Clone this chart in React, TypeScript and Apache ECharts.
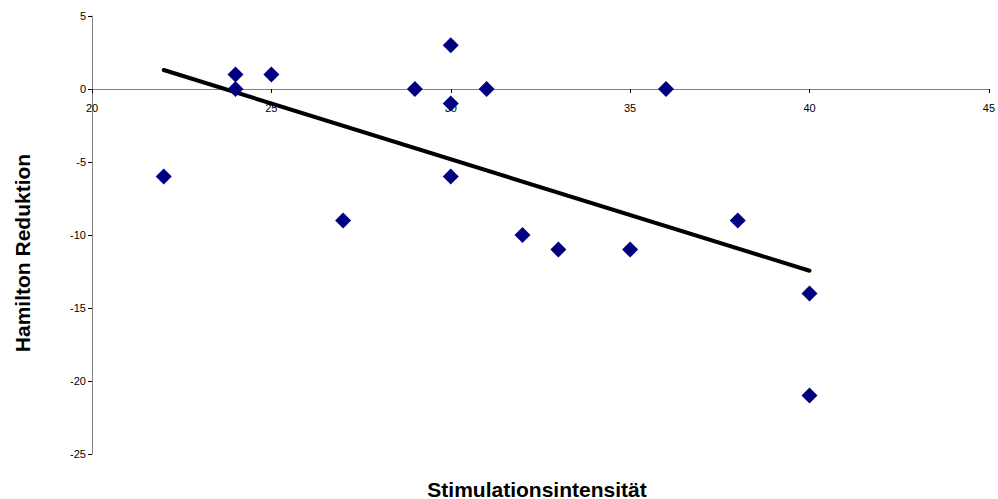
import React, { useEffect, useRef } from "react";
import * as echarts from "echarts";

const stimX: number[] = [22, 24, 24, 25, 27, 29, 30, 30, 30, 31, 32, 33, 35, 36, 38, 40, 40];
const hamiltonY: number[] = [-6, 1, 0, 1, -9, 0, 3, -1, -6, 0, -10, -11, -11, 0, -9, -14, -21];
const trendX: number[] = [22, 40];
const trendY: number[] = [1.3, -12.45];
const xTitle = "Stimulationsintensität";
const yTitle = "Hamilton Reduktion";

export default function App() {
  const ref = useRef<HTMLDivElement>(null);
  useEffect(() => {
    if (!ref.current) return;
    const chart = echarts.init(ref.current, undefined, { renderer: "svg" });
    const font = "'Liberation Sans', Arial, sans-serif";
    chart.setOption({
      animation: false,
      backgroundColor: "#ffffff",
      grid: { left: 92, right: 8, top: 16, bottom: 45, containLabel: false },
      xAxis: {
        type: "value",
        min: 20,
        max: 45,
        interval: 5,
        offset: -365,
        axisLine: { onZero: false, lineStyle: { color: "#808080", width: 1 } },
        axisTick: { show: true, inside: false, length: 4, lineStyle: { color: "#000000" } },
        axisLabel: { color: "#000000", fontSize: 11, fontFamily: font, margin: 13 },
        splitLine: { show: false },
        z: 1,
      },
      yAxis: {
        type: "value",
        min: -25,
        max: 5,
        interval: 5,
        axisLine: { show: true, onZero: false, lineStyle: { color: "#808080", width: 1 } },
        axisTick: { show: true, inside: false, length: 4, lineStyle: { color: "#000000" } },
        axisLabel: { color: "#000000", fontSize: 11, fontFamily: font, margin: 6 },
        splitLine: { show: false },
      },
      series: [
        {
          type: "line",
          data: trendX.map((x, i) => [x, trendY[i]]),
          symbol: "none",
          lineStyle: { color: "#000000", width: 4, cap: "round" },
          z: 2,
        },
        {
          type: "scatter",
          data: stimX.map((x, i) => [x, hamiltonY[i]]),
          symbol: "diamond",
          symbolSize: 16,
          itemStyle: { color: "#000080", opacity: 1 },
          z: 3,
        },
      ],
      graphic: [
        {
          type: "text",
          x: 537,
          y: 489,
          style: {
            text: xTitle,
            font: `bold 21px ${font}`,
            fill: "#000000",
            align: "center",
            verticalAlign: "middle",
          },
        },
        {
          type: "text",
          x: 22,
          y: 253,
          rotation: Math.PI / 2,
          style: {
            text: yTitle,
            font: `bold 21px ${font}`,
            fill: "#000000",
            align: "center",
            verticalAlign: "middle",
          },
        },
      ],
    });
    return () => chart.dispose();
  }, []);
  return <div ref={ref} style={{ width: 998, height: 499, position: "absolute", left: 0, top: 0 }} />;
}
